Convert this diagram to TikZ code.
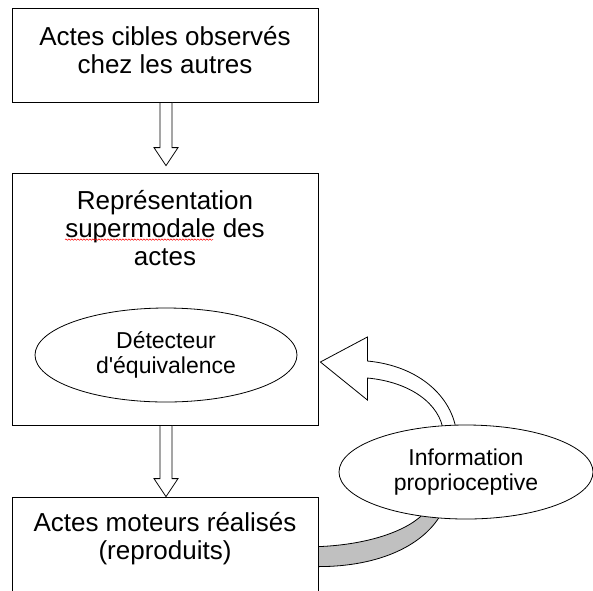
\documentclass[tikz,border=0pt]{standalone}
\usepackage{fontspec}
\setmainfont{Liberation Sans}
\usetikzlibrary{positioning, calc, shapes, decorations.pathmorphing}

\definecolor{bandgray}{RGB}{192,192,192}

% hollow block arrow from #1 down to #2
\newcommand{\hollowarrow}[2]{%
  \draw[fill=white] let \p1=(#1), \p2=(#2) in
    (\x1-6pt,\y1) -- (\x1-6pt,\y2+18pt) -- (\x1-12pt,\y2+18pt) -- (\x1,\y2)
    -- (\x1+12pt,\y2+18pt) -- (\x1+6pt,\y2+18pt) -- (\x1+6pt,\y1) -- cycle;}

\begin{document}
\begin{tikzpicture}[x=1pt, y=-1pt, line width=0.8pt,
  box/.style={draw, fill=white, minimum width=306pt, inner sep=0pt},
  txt/.style={align=center, inner sep=0pt, font=\fontsize{26}{28}\selectfont},
  oval/.style={draw, fill=white, ellipse, minimum height=94pt, inner sep=0pt,
    align=center, font=\fontsize{23}{25}\selectfont}]
  \useasboundingbox (0,0) rectangle (593,590);

  \node[box, minimum height=94pt] (cibles) at (165,55) {};
  \node[txt, below=18pt of cibles.north] (cibles-txt) {Actes cibles observés\\chez les autres};

  \node[box, minimum height=252pt] (repr) at (165,299) {};
  \node[txt, below=17pt of repr.north] (repr-txt) {Représentation\\supermodale des\\actes};
  \draw[red, line width=0.5pt, decorate, decoration={snake, amplitude=0.7pt, segment length=3pt}]
    ($(repr-txt.north)+(-100,50)$) -- ($(repr-txt.north)+(48,50)$);
  \node[oval, minimum width=262pt] (detect) at (166,355) {Détecteur\\d\textquotesingle équivalence};

  \node[box, minimum height=110pt] (moteurs) at (165,552) {};
  \node[txt, below=15pt of moteurs.north] (moteurs-txt) {Actes moteurs réalisés\\(reproduits)};

  \hollowarrow{$(cibles.south)+(1,0)$}{$(repr.north)+(1,-7)$}
  \hollowarrow{$(repr.south)+(1,0)$}{$(moteurs.north)+(1,0)$}

  % feedback loop
  \coordinate (tip) at ($(repr.east)+(2,63)$);
  \coordinate (foot) at ($(moteurs.north east)+(0,50)$);
  \draw[fill=white, shift={(tip)}] (tip) -- (47,-25) -- (47,-1)
    .. controls (100,4) and (132,36) .. (136,70) -- (123,70)
    .. controls (120,42) and (90,20) .. (47,16) -- (47,38) -- cycle;
  \draw[fill=bandgray, shift={(foot)}] (foot)
    .. controls (52,-2) and (92,-17) .. (107,-35) -- (124,-35)
    .. controls (107,-2) and (62,20) .. (0,20) -- cycle;
  \node[oval, minimum width=254pt] (info) at (466,472) {Information\\proprioceptive};
\end{tikzpicture}
\end{document}
